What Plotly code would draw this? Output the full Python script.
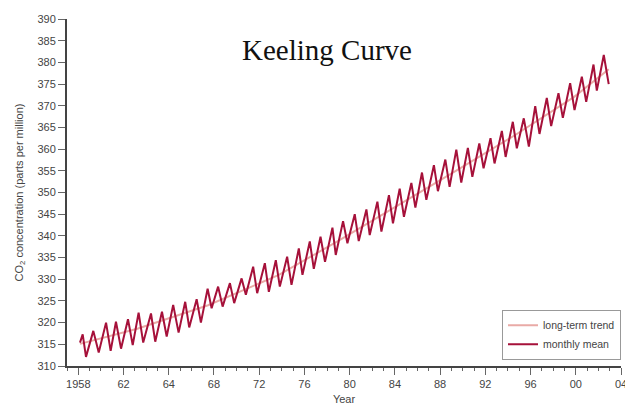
import plotly.graph_objects as go

# Monthly mean (zig-zag vertices), x in decimal years
mean_t = [1958.14, 1958.37, 1958.65, 1959.27, 1959.73, 1960.35, 1960.74, 1961.19, 1961.62,
          1962.21, 1962.61, 1963.11, 1963.50, 1964.16, 1964.52, 1965.09, 1965.49, 1966.04,
          1966.50, 1967.06, 1967.40, 1968.03, 1968.39, 1968.96, 1969.30, 1969.85, 1970.23,
          1970.85, 1971.21, 1971.84, 1972.20, 1972.82, 1973.16, 1973.81, 1974.15, 1974.74,
          1975.08, 1975.70, 1976.07, 1976.69, 1977.00, 1977.62, 1977.96, 1978.53, 1978.91,
          1979.54, 1979.82, 1980.44, 1980.81, 1981.43, 1981.77, 1982.42, 1982.70, 1983.35,
          1983.69, 1984.33, 1984.67, 1985.24, 1985.60, 1986.23, 1986.57, 1987.13, 1987.50,
          1988.14, 1988.48, 1989.11, 1989.47, 1990.04, 1990.46, 1991.02, 1991.40, 1991.99,
          1992.35, 1992.94, 1993.28, 1993.90, 1994.22, 1994.83, 1995.17, 1995.76, 1996.19,
          1996.73, 1997.09, 1997.71, 1998.08, 1998.70, 1999.07, 1999.69, 2000.06, 2000.68,
          2001.05, 2001.67, 2001.95, 2002.54, 2002.96]
mean_v = [315.4, 317.3, 312.1, 318.1, 313.1, 320.0, 313.5, 320.2, 314.0,
          320.8, 314.8, 322.3, 315.4, 322.1, 315.6, 322.5, 316.8, 324.1,
          317.7, 324.8, 318.9, 325.4, 320.0, 327.8, 323.3, 328.3, 323.7,
          329.1, 324.5, 330.2, 326.4, 332.9, 326.8, 333.7, 327.1, 334.4,
          328.3, 335.2, 328.7, 337.1, 331.0, 338.7, 332.4, 339.8, 334.0,
          341.9, 335.6, 343.4, 338.3, 345.0, 338.8, 346.1, 340.2, 347.9,
          341.0, 349.4, 342.9, 350.9, 344.4, 352.2, 346.5, 354.6, 348.3,
          356.3, 350.3, 357.6, 351.3, 359.9, 352.3, 360.3, 353.6, 361.3,
          355.6, 362.5, 356.7, 364.2, 358.2, 366.3, 360.2, 367.1, 360.6,
          369.9, 363.5, 371.8, 365.3, 372.9, 367.2, 375.2, 369.0, 376.7,
          370.9, 379.5, 373.5, 381.7, 375.0]

# Long-term trend points
trend_t = [1958.14, 1963.0, 1969.0, 1975.0, 1980.0, 1985.0, 1990.0, 1995.0, 2000.0, 2002.96]
trend_v = [315.1, 318.6, 324.0, 331.0, 338.8, 346.8, 355.0, 363.2, 372.0, 378.4]

# Axis tick labels (as printed on the original)
x_tick_labels = ["1958", "62", "64", "68", "72", "76", "80", "84", "88", "92", "96", "00", "04"]
y_ticks = list(range(310, 391, 5))

X0, X1 = 1958.0, 2004.0
XR = [1957.04, X1]
n = len(x_tick_labels) - 1
step = (X1 - X0) / n
label_vals = [X0 + i * step for i in range(n + 1)]
half_vals = [X0 + (i + 0.5) * step for i in range(n)]

fig = go.Figure()
fig.add_trace(go.Scatter(x=trend_t, y=trend_v, mode="lines", name="long-term trend",
                         line=dict(color="#e9aaa6", width=2)))
fig.add_trace(go.Scatter(x=mean_t, y=mean_v, mode="lines", name="monthly mean",
                         line=dict(color="#a6113a", width=2)))

tick_common = dict(ticks="outside", tickcolor="#666", tickwidth=1)

fig.update_layout(
    # page body adds an 8px offset, so the figure is 8px smaller each way
    width=625, height=400,
    margin=dict(l=59, r=12, t=11, b=42),
    paper_bgcolor="white", plot_bgcolor="white",
    font=dict(family="Liberation Sans, Arial, sans-serif", color="#444", size=11),
    showlegend=True,
    legend=dict(x=1.0, xanchor="right", y=0.018, yanchor="bottom",
                bordercolor="#999", borderwidth=1, bgcolor="white",
                font=dict(size=10.5, color="#444"), traceorder="normal",
                tracegroupgap=0, itemwidth=30),
    annotations=[dict(text="Keeling Curve", xref="paper", yref="paper",
                      x=0.469, y=0.911, xanchor="center", yanchor="middle",
                      showarrow=False,
                      font=dict(family="Liberation Serif, Times New Roman, serif",
                                size=29, color="#111"))],
    xaxis=dict(
        range=XR, showgrid=False, zeroline=False,
        showline=True, linecolor="#444", linewidth=2,
        tickmode="array", tickvals=label_vals, ticktext=x_tick_labels,
        ticklen=7, **tick_common,
        minor=dict(tick0=X0, dtick=step / 4, ticks="outside", ticklen=3,
                   tickcolor="#666", tickwidth=1, showgrid=False),
        title=dict(text="Year", font=dict(size=11, color="#444"), standoff=6),
        tickfont=dict(size=11, color="#444"),
        automargin=False,
    ),
    xaxis2=dict(
        overlaying="x", matches="x", anchor="y", side="bottom",
        range=XR, showgrid=False, zeroline=False, showline=False,
        tickmode="array", tickvals=half_vals, showticklabels=False,
        ticklen=7, **tick_common, automargin=False,
    ),
    yaxis=dict(
        range=[310, 390], showgrid=False, zeroline=False,
        showline=True, linecolor="#444", linewidth=2,
        tickmode="array", tickvals=y_ticks,
        ticklen=7, **tick_common,
        title=dict(text="CO<sub>2</sub> concentration (parts per million)",
                   font=dict(size=11, color="#444"), standoff=12),
        tickfont=dict(size=11, color="#444"),
        automargin=False,
    ),
)

fig.write_html("out.html")
